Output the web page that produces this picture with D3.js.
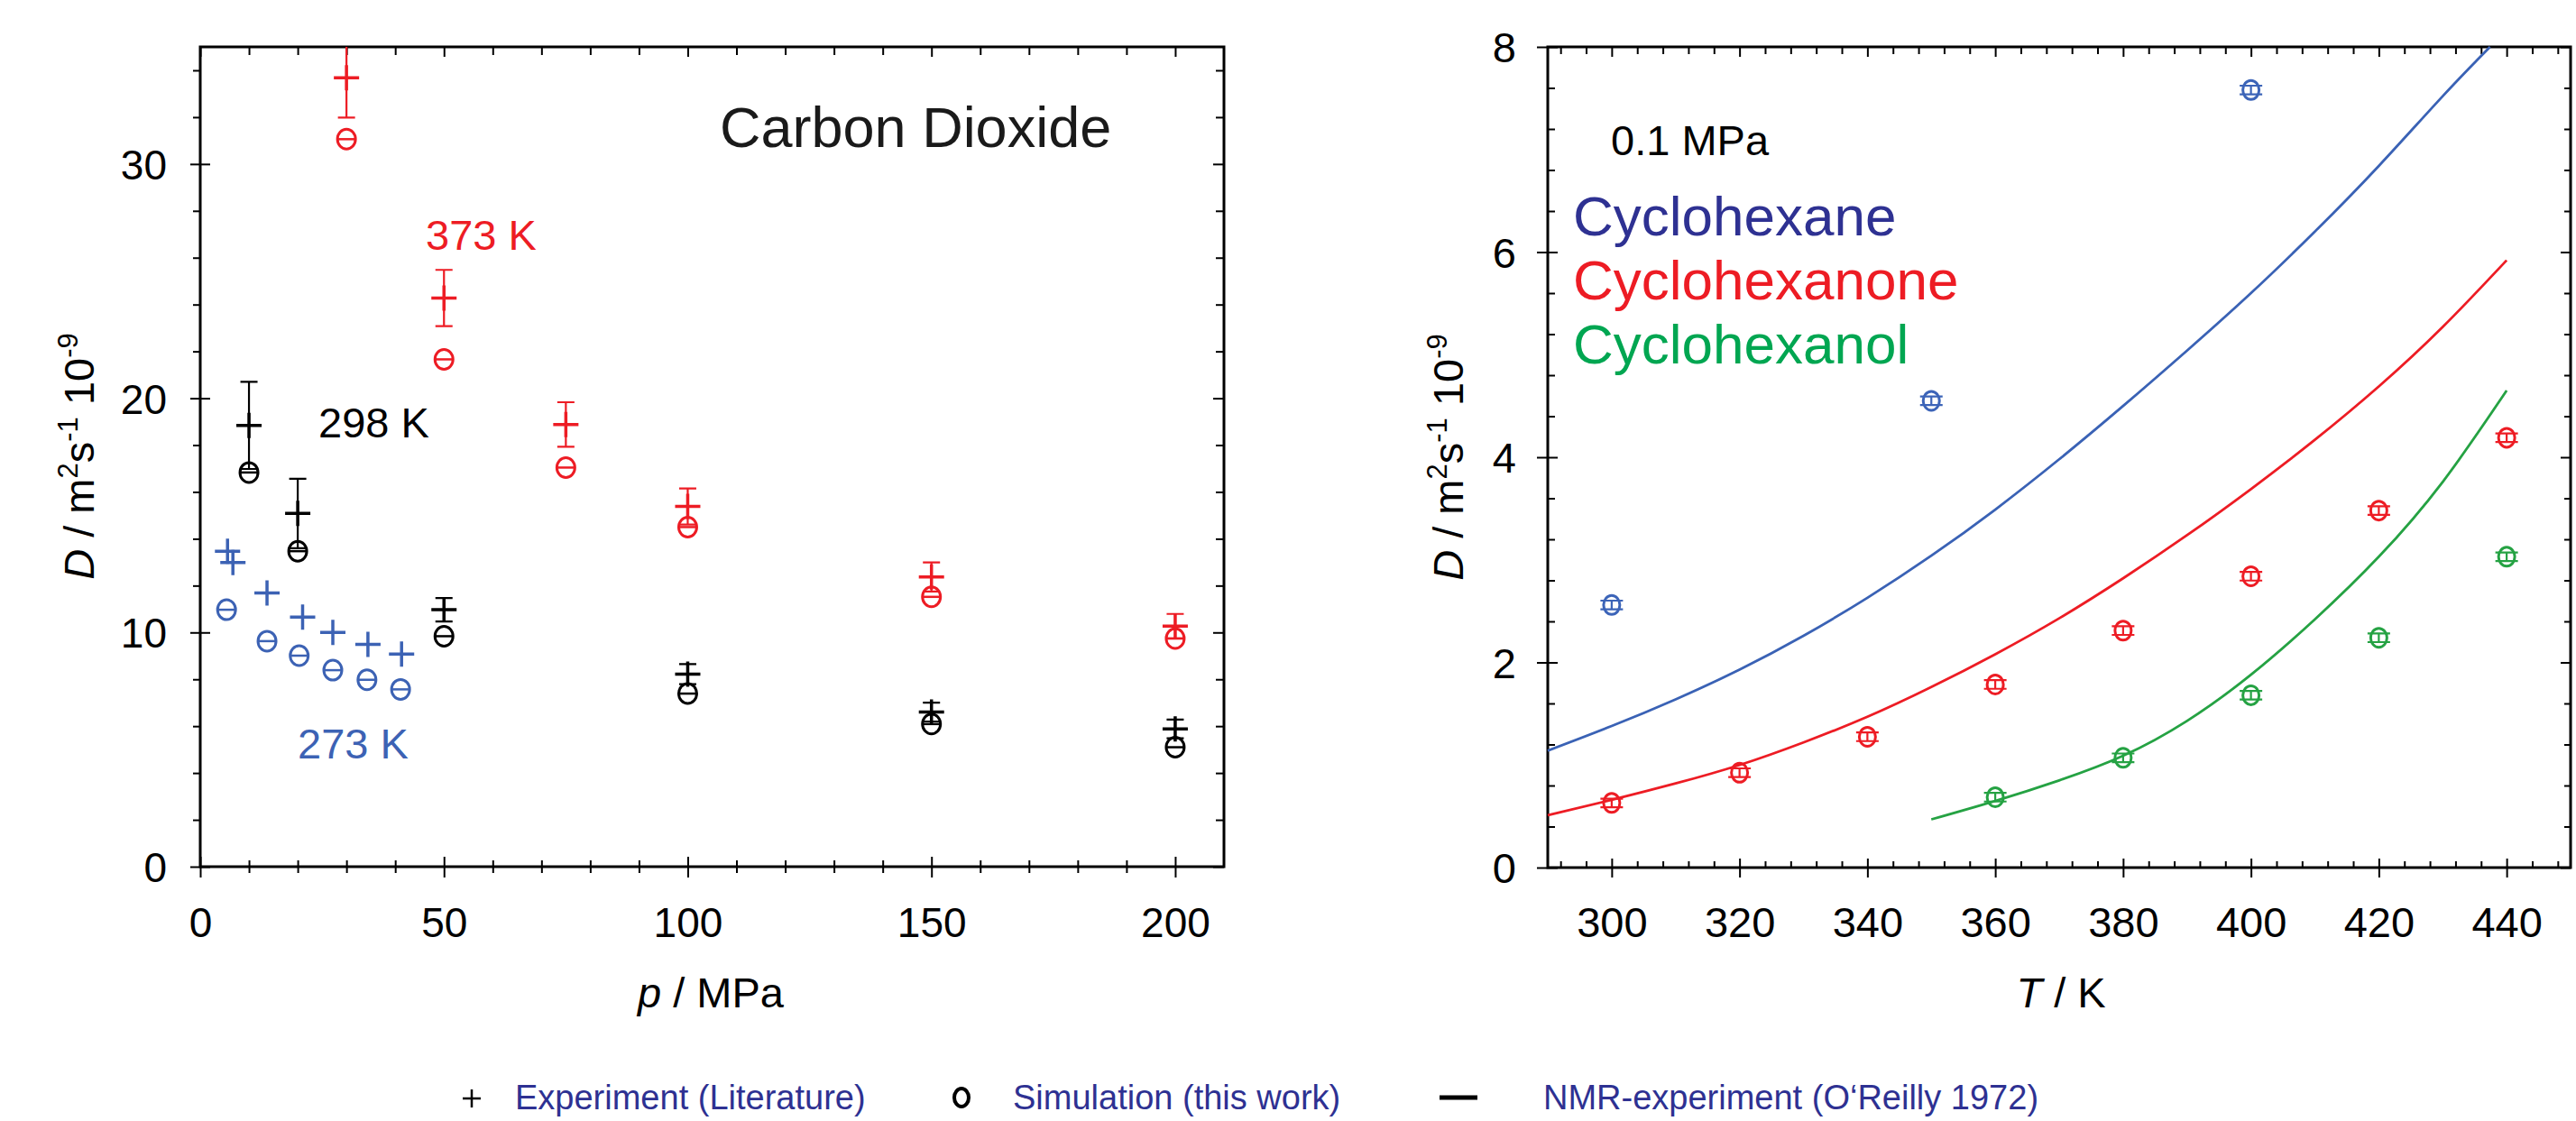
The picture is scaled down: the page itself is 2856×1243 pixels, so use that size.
<!DOCTYPE html>
<html>
<head>
<meta charset="utf-8">
<script src="https://cdn.jsdelivr.net/npm/d3@7"></script>
<style>
  html, body { margin: 0; padding: 0; background: #fff; }
  svg { display: block; font-family: "Liberation Sans", Arial, sans-serif; }
</style>
</head>
<body>
<script>
// ---- left panel: carbon dioxide, D vs p ----
const p373 = [30, 50, 75, 100, 150, 200];
const exp373 = [33.68, 24.28, 18.88, 15.38, 12.37, 10.27];
const err373 = [1.7, 1.2, 0.95, 0.77, 0.62, 0.52];
const sim373 = [31.06, 21.66, 17.04, 14.5, 11.52, 9.74];

const p298 = [10, 20, 50, 100, 150, 200];
const exp298 = [18.84, 15.08, 10.97, 8.22, 6.6, 5.88];
const err298 = [1.86, 1.48, 0.5, 0.43, 0.4, 0.4];
const sim298 = [16.83, 13.47, 9.84, 7.39, 6.09, 5.1];

const pExp273 = [5.6, 6.7, 13.7, 21.0, 27.2, 34.4, 41.3];
const exp273 = [13.47, 12.99, 11.69, 10.66, 10.0, 9.49, 9.08];
const pSim273 = [5.4, 13.7, 20.3, 27.2, 34.2, 41.1];
const sim273 = [10.97, 9.63, 9.01, 8.39, 7.98, 7.57];

const pTicks = [0, 50, 100, 150, 200];
const dTicksL = [0, 10, 20, 30];

// ---- right panel: D vs T at 0.1 MPa ----
const tHexane = [300, 350, 400];
const simHexane = [2.56, 4.55, 7.58];
const tHexanone = [300, 320, 340, 360, 380, 400, 420, 440];
const simHexanone = [0.63, 0.925, 1.275, 1.785, 2.31, 2.84, 3.48, 4.19];
const tHexanol = [360, 380, 400, 420, 440];
const simHexanol = [0.686, 1.07, 1.68, 2.24, 3.03];
const simErr = 0.042;

const tFitHexane = [290, 300, 310, 320, 330, 340, 350, 360, 370, 380, 390, 400, 410, 420, 430, 437.4];
const fitHexane = [1.14, 1.38, 1.64, 1.93, 2.26, 2.63, 3.04, 3.49, 3.98, 4.50, 5.04, 5.60, 6.20, 6.84, 7.52, 8.0];
const tFitHexanone = [290, 300, 310, 320, 330, 340, 350, 360, 370, 380, 390, 400, 410, 420, 430, 440];
const fitHexanone = [0.51, 0.66, 0.82, 1.00, 1.22, 1.47, 1.76, 2.08, 2.43, 2.82, 3.24, 3.69, 4.17, 4.69, 5.27, 5.92];
const tFitHexanol = [350, 360, 370, 380, 390, 400, 410, 420, 430, 440];
const fitHexanol = [0.47, 0.65, 0.85, 1.09, 1.43, 1.88, 2.42, 3.03, 3.76, 4.65];

const tTicks = [300, 320, 340, 360, 380, 400, 420, 440];
const dTicksR = [0, 2, 4, 6, 8];

const legendLabels = ["Experiment (Literature)", "Simulation (this work)", "NMR-experiment (O\u2018Reilly 1972)"];

const RED = "#ed1c24", BLUE = "#3c62b4", BLACK = "#000", GREEN = "#25a243";

const svg = d3.select("body").append("svg")
    .attr("width", 2856)
    .attr("height", 1243);

const xL = d3.scaleLinear().domain([0, 210]).range([222, 1357]);
const yL = d3.scaleLinear().domain([0, 35]).range([961, 52]);
const xR = d3.scaleLinear().domain([290, 450]).range([1716, 2850]);
const yR = d3.scaleLinear().domain([0, 8]).range([962, 52]);

// one set of tick marks, no labels
function tickSet(axis, scale, vals, len, tr) {
  svg.append("g").attr("transform", tr)
    .call(axis(scale).tickValues(vals).tickSize(len).tickSizeOuter(0).tickFormat(""))
    .call(g => g.select(".domain").remove())
    .selectAll("line").attr("stroke", "#000").attr("stroke-width", 2);
}

function frame(x, y) {
  svg.append("rect")
    .attr("x", x.range()[0]).attr("y", y.range()[1])
    .attr("width", x.range()[1] - x.range()[0])
    .attr("height", y.range()[0] - y.range()[1])
    .attr("fill", "none").attr("stroke", "#000").attr("stroke-width", 3);
}

// ---------- left frame + axes ----------
const pMinor = d3.range(10, 210, 10).filter(v => v % 50 !== 0);
const dMinorL = d3.range(2, 35, 2).filter(v => v % 10 !== 0);
const bL = `translate(0,${yL(0)})`, tL = `translate(0,${yL(35)})`;
const lL = `translate(${xL(0)},0)`, rL = `translate(${xL(210)},0)`;

tickSet(d3.axisBottom, xL, pTicks, 12, bL);
tickSet(d3.axisBottom, xL, pTicks, -11, bL);
tickSet(d3.axisBottom, xL, pMinor, 7, bL);
tickSet(d3.axisBottom, xL, pMinor, -7, bL);
tickSet(d3.axisTop, xL, pTicks, -11, tL);
tickSet(d3.axisTop, xL, pMinor, -9, tL);
tickSet(d3.axisLeft, yL, dTicksL, 11, lL);
tickSet(d3.axisLeft, yL, dTicksL, -11, lL);
tickSet(d3.axisLeft, yL, dMinorL, 8, lL);
tickSet(d3.axisRight, yL, dTicksL, -12, rL);
tickSet(d3.axisRight, yL, dMinorL, -9, rL);
frame(xL, yL);

svg.append("g").attr("transform", bL)
  .call(d3.axisBottom(xL).tickValues(pTicks).tickSize(0))
  .call(g => g.select(".domain").remove())
  .selectAll("text")
  .attr("y", 78).attr("dy", 0)
  .attr("font-size", 46).attr("font-family", "Liberation Sans, Arial, sans-serif")
  .attr("fill", "#000");

svg.append("g").attr("transform", lL)
  .call(d3.axisLeft(yL).tickValues(dTicksL).tickSize(0))
  .call(g => g.select(".domain").remove())
  .selectAll("text")
  .attr("x", -37).attr("dy", "0.36em")
  .attr("font-size", 46).attr("font-family", "Liberation Sans, Arial, sans-serif")
  .attr("fill", "#000");

// ---------- right frame + axes ----------
const tMinor = d3.range(292, 450, 4).filter(v => (v - 300) % 20 !== 0);
const dMinorR = d3.range(0.4, 8, 0.4).filter(v => Math.abs(v / 2 - Math.round(v / 2)) > 0.01);
const bR = `translate(0,${yR(0)})`, tR = `translate(0,${yR(8)})`;
const lR = `translate(${xR(290)},0)`, rR = `translate(${xR(450)},0)`;

tickSet(d3.axisBottom, xR, tTicks, 11, bR);
tickSet(d3.axisBottom, xR, tTicks, -10, bR);
tickSet(d3.axisBottom, xR, tMinor, -7, bR);
tickSet(d3.axisTop, xR, tTicks, -11, tR);
tickSet(d3.axisTop, xR, tMinor, -8, tR);
tickSet(d3.axisLeft, yR, dTicksR, 12, lR);
tickSet(d3.axisLeft, yR, dTicksR, -11, lR);
tickSet(d3.axisLeft, yR, dMinorR, -8, lR);
tickSet(d3.axisRight, yR, dTicksR, -11, rR);
tickSet(d3.axisRight, yR, dMinorR, -7, rR);
frame(xR, yR);

svg.append("g").attr("transform", bR)
  .call(d3.axisBottom(xR).tickValues(tTicks).tickSize(0))
  .call(g => g.select(".domain").remove())
  .selectAll("text")
  .attr("y", 77).attr("dy", 0)
  .attr("font-size", 47).attr("font-family", "Liberation Sans, Arial, sans-serif")
  .attr("fill", "#000");

svg.append("g").attr("transform", lR)
  .call(d3.axisLeft(yR).tickValues(dTicksR).tickSize(0))
  .call(g => g.select(".domain").remove())
  .selectAll("text")
  .attr("x", -35).attr("dy", "0.36em")
  .attr("font-size", 47).attr("font-family", "Liberation Sans, Arial, sans-serif")
  .attr("fill", "#000");

// ---------- axis titles ----------
function yTitle(x, y) {
  const t = svg.append("text")
    .attr("transform", `translate(${x},${y}) rotate(-90)`)
    .attr("text-anchor", "middle").attr("font-size", 47);
  t.append("tspan").attr("font-style", "italic").text("D");
  t.append("tspan").text(" / m");
  t.append("tspan").attr("font-size", 31).attr("dy", -18).text("2");
  t.append("tspan").attr("dy", 18).text("s");
  t.append("tspan").attr("font-size", 31).attr("dy", -18).text("-1");
  t.append("tspan").attr("dy", 18).text(" 10");
  t.append("tspan").attr("font-size", 31).attr("dy", -18).text("-9");
}
yTitle(104, 506);
yTitle(1622, 507);

const xt1 = svg.append("text")
  .attr("x", 788).attr("y", 1117)
  .attr("text-anchor", "middle").attr("font-size", 47);
xt1.append("tspan").attr("font-style", "italic").text("p");
xt1.append("tspan").text(" / MPa");

const xt2 = svg.append("text")
  .attr("x", 2285).attr("y", 1117)
  .attr("text-anchor", "middle").attr("font-size", 47);
xt2.append("tspan").attr("font-style", "italic").text("T");
xt2.append("tspan").text(" / K");

// ---------- left marks ----------
svg.append("clipPath").attr("id", "clipL")
  .append("rect").attr("x", 222).attr("y", 52).attr("width", 1135).attr("height", 909);
const gL = svg.append("g").attr("clip-path", "url(#clipL)");

function plusMarks(g, xs, vs, es, x, y, color) {
  xs.forEach((p, i) => {
    const cx = x(p), cy = y(vs[i]);
    if (es) {
      const y1 = y(vs[i] - es[i]), y2 = y(vs[i] + es[i]);
      g.append("path")
        .attr("d", `M${cx},${y1}V${y2}M${cx - 9.5},${y1}H${cx + 9.5}M${cx - 9.5},${y2}H${cx + 9.5}`)
        .attr("stroke", color).attr("stroke-width", 2.2).attr("fill", "none");
    }
    g.append("path")
      .attr("d", `M${cx - 14},${cy}H${cx + 14}M${cx},${cy - 14}V${cy + 14}`)
      .attr("stroke", color).attr("stroke-width", 3.5).attr("fill", "none");
  });
}

function circleMarks(g, xs, vs, x, y, color, rx, ry, err, cap) {
  xs.forEach((p, i) => {
    const cx = x(p), cy = y(vs[i]);
    g.append("ellipse").attr("cx", cx).attr("cy", cy).attr("rx", rx).attr("ry", ry)
      .attr("fill", "none").attr("stroke", color).attr("stroke-width", 3);
    if (err) {
      const y1 = y(vs[i] - err), y2 = y(vs[i] + err);
      g.append("path")
        .attr("d", `M${cx},${y1}V${y2}M${cx - cap},${y1}H${cx + cap}M${cx - cap},${y2}H${cx + cap}`)
        .attr("stroke", color).attr("stroke-width", 2.2).attr("fill", "none");
    } else {
      g.append("path").attr("d", `M${cx - rx},${cy}H${cx + rx}`)
        .attr("stroke", color).attr("stroke-width", 2.5);
    }
  });
}

plusMarks(gL, p373, exp373, err373, xL, yL, RED);
circleMarks(gL, p373, sim373, xL, yL, RED, 10, 11);
plusMarks(gL, p298, exp298, err298, xL, yL, BLACK);
circleMarks(gL, p298, sim298, xL, yL, BLACK, 10, 11);
plusMarks(gL, pExp273, exp273, null, xL, yL, BLUE);
circleMarks(gL, pSim273, sim273, xL, yL, BLUE, 10, 11);

svg.append("text").attr("x", 798).attr("y", 163).attr("font-size", 63).attr("fill", "#1a1a1a").text("Carbon Dioxide");
svg.append("text").attr("x", 472).attr("y", 277).attr("font-size", 47).attr("fill", RED).text("373 K");
svg.append("text").attr("x", 353).attr("y", 485).attr("font-size", 47).attr("fill", BLACK).text("298 K");
svg.append("text").attr("x", 330).attr("y", 841).attr("font-size", 47).attr("fill", BLUE).text("273 K");

// ---------- right marks ----------
const line = (xs, vs) => d3.line()
  .x((d, i) => xR(xs[i])).y(d => yR(d))
  .curve(d3.curveNatural)(vs);

svg.append("path").attr("d", line(tFitHexane, fitHexane)).attr("fill", "none").attr("stroke", "#3a62b5").attr("stroke-width", 2.8);
svg.append("path").attr("d", line(tFitHexanone, fitHexanone)).attr("fill", "none").attr("stroke", RED).attr("stroke-width", 2.8);
svg.append("path").attr("d", line(tFitHexanol, fitHexanol)).attr("fill", "none").attr("stroke", GREEN).attr("stroke-width", 2.8);

const gR = svg.append("g");
circleMarks(gR, tHexane, simHexane, xR, yR, "#3c64b8", 9, 10.5, simErr, 12.5);
circleMarks(gR, tHexanone, simHexanone, xR, yR, RED, 9, 10.5, simErr, 12.5);
circleMarks(gR, tHexanol, simHexanol, xR, yR, GREEN, 9, 10.5, simErr, 12.5);

svg.append("text").attr("x", 1786).attr("y", 172).attr("font-size", 47).attr("fill", "#000").text("0.1 MPa");
svg.append("text").attr("x", 1744).attr("y", 261).attr("font-size", 62).attr("fill", "#2e3192").text("Cyclohexane");
svg.append("text").attr("x", 1744).attr("y", 332).attr("font-size", 62).attr("fill", RED).text("Cyclohexanone");
svg.append("text").attr("x", 1744).attr("y", 403).attr("font-size", 62).attr("fill", "#00a651").text("Cyclohexanol");

// ---------- legend ----------
const lg = svg.append("g");
lg.append("path").attr("d", "M513,1218H533M523,1208V1228").attr("stroke", "#000").attr("stroke-width", 2.5);
lg.append("ellipse").attr("cx", 1066).attr("cy", 1217).attr("rx", 8).attr("ry", 10)
  .attr("fill", "none").attr("stroke", "#000").attr("stroke-width", 4);
lg.append("path").attr("d", "M1596,1217H1638").attr("stroke", "#000").attr("stroke-width", 5);
const legendX = [571, 1123, 1711];
lg.selectAll("text.lab").data(legendLabels).enter().append("text")
  .attr("x", (d, i) => legendX[i]).attr("y", 1230)
  .attr("font-size", 38).attr("fill", "#2e3192")
  .text(d => d);
</script>
</body>
</html>
